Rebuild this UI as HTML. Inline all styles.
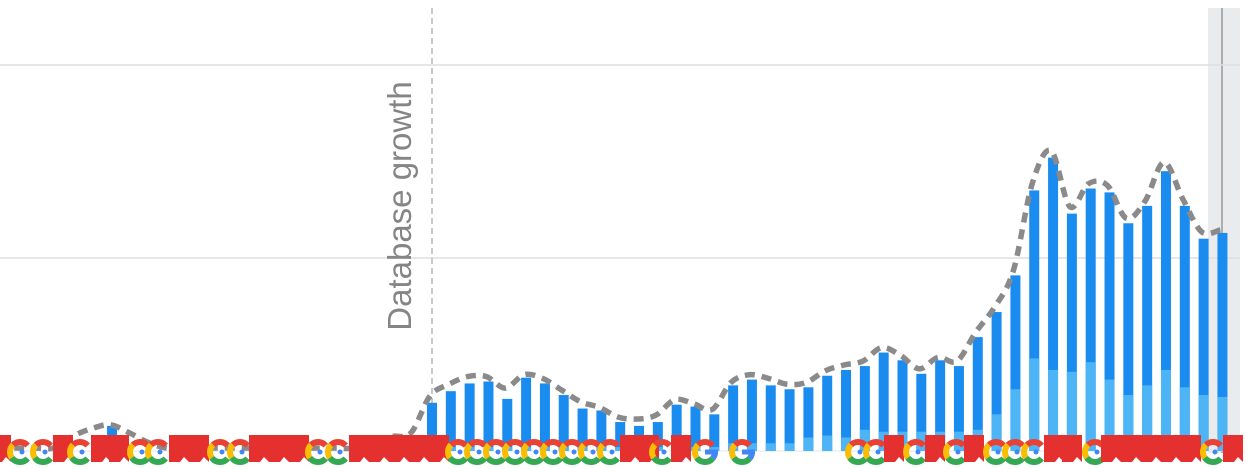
<!DOCTYPE html>
<html><head><meta charset="utf-8"><style>
html,body{margin:0;padding:0;background:#fff;}
svg{display:block;font-family:"Liberation Sans",sans-serif;}
</style></head><body>
<svg id="chart" width="1246" height="469" viewBox="0 0 1246 469" xmlns="http://www.w3.org/2000/svg">
<rect x="1208" y="8" width="32" height="445" fill="#e9ebed"/>
<line x1="1222" y1="8" x2="1222" y2="453" stroke="#9a9a9a" stroke-width="1.5"/>
<g id="grid"></g>
<line x1="432" y1="8" x2="432" y2="440" stroke="#b5b5b5" stroke-width="1.5" stroke-dasharray="6 4"/>
<text x="0" y="0" transform="translate(411,206) rotate(-90)" text-anchor="middle" font-size="33" fill="#858585">Database growth</text>
<g id="bars"></g>
<path id="trend" fill="none" stroke="#8a8a8a" stroke-width="5.5" stroke-dasharray="10 7"/>
<g id="icons"></g>
</svg>
<script>
const categories = Array.from({length:66},(_, i)=>'w'+(i+1));
const totalValues = [0,0,0,0,0,0,13,0,0,0,0,0,0,0,0,0,0,0,0,0,0,5,4,
25,31,35,36,27,38,35,29,22,21,15,13,15,24,23,19,34,37,34,32,
33,39,42,44,51,47,40,47,44,59,72,91,135,152,123,136,134,118,127,145,127,110,113];
const lightValues = [0,0,0,0,0,0,0,0,0,0,0,0,0,0,0,0,0,0,0,0,0,0,0,
2,2,2,2,2,2,2,2,2,2,2,2,2,2,2,2,4,4,4,4,
7,8,7,11,10,10,10,10,10,11,19,32,48,42,41,46,37,29,34,42,33,29,28];
const trendValues = [0,0,0,0,6,10,12,8,3,0,0,0,0,0,0,0,0,0,0,0,4,6,8,
27,33,37,37,31,38,36,30,24,21,16,15,17,25,23,20,34,38,36,33,
34,40,43,45,52,48,41,47,45,60,73,92,137,154,125,137,136,119,128,148,129,112,113];
const gridTicks = [100,200];

const NS='http://www.w3.org/2000/svg';
const x = i => 432 + (i-23)*18.82;
const y = v => 451 - v*1.93;
const mk=(t,a,p)=>{const e=document.createElementNS(NS,t);for(const k in a)e.setAttribute(k,a[k]);p.appendChild(e);return e;};

const grid=document.getElementById('grid');
gridTicks.forEach(t=>{
  const l=mk('line',{x1:0,x2:1240,y1:y(t),y2:y(t),stroke:'#dcdfe3','stroke-width':1.5},grid);
  
  
});
const base=mk('line',{x1:0,x2:1240,y1:451,y2:451,stroke:'#e3e6ea','stroke-width':1},grid);



const bars=document.getElementById('bars');
categories.forEach((c,i)=>{
  const v=totalValues[i]; if(!v) return;
  const r=mk('rect',{x:x(i)-5,y:y(v),width:10,height:451-y(v),fill:'#1a8cf0'},bars);
  
  
  const lv=lightValues[i];
  if(lv){
    const s=mk('rect',{x:x(i)-5,y:y(lv),width:10,height:451-y(lv),fill:'#4db5f6'},bars);
    
    
  }
});

const pts=trendValues.map((v,i)=>[x(i)-2,y(v)-3]);
let d='M'+pts[0][0]+','+pts[0][1];
for(let i=0;i<pts.length-1;i++){
  const p0=pts[Math.max(0,i-1)],p1=pts[i],p2=pts[i+1],p3=pts[Math.min(pts.length-1,i+2)];
  const c1=[p1[0]+(p2[0]-p0[0])/6,p1[1]+(p2[1]-p0[1])/6];
  const c2=[p2[0]-(p3[0]-p1[0])/6,p2[1]-(p3[1]-p1[1])/6];
  d+=` C${c1[0]},${c1[1]} ${c2[0]},${c2[1]} ${p2[0]},${p2[1]}`;
}
document.getElementById('trend').setAttribute('d',d);

const icons=document.getElementById('icons');
const iconList=[[0,'F'],[20,'C'],[43,'C'],[62,'F'],[80,'C'],[100,'F'],[118,'F'],[140,'C'],[158,'C'],[178,'F'],[198,'F'],[220,'C'],[240,'C'],[258,'F'],[278,'F'],[298,'F'],[318,'C'],[338,'C'],[358,'F'],[378,'F'],[398,'F'],[418,'F'],[438,'F'],
[458,'C'],[477,'C'],[496,'C'],[515,'C'],[534,'C'],[553,'C'],[572,'C'],[591,'C'],[610,'C'],[629,'F'],[648,'F'],[662,'C'],[680,'F'],[705,'G'],[742,'G'],
[858,'C'],[876,'C'],[893,'F'],[916,'C'],[934,'F'],[956,'C'],[973,'F'],[996,'C'],[1015,'C'],[1034,'C'],[1053,'F'],[1071,'F'],[1095,'C'],[1110,'F'],[1130,'F'],[1150,'F'],[1170,'F'],[1190,'F'],[1213,'C'],[1232,'F']];
iconList.forEach(([cx,t],k)=>{
  const g=mk('g',{},icons);
  
  
  if(t==='F'){
    mk('path',{d:`M${cx-9},435 h20 v27 l-5,-5 l-4,5 h-11 z`,fill:'#e53030'},g);
  } else {
    const r=10, cy=452;
    const arc=(a1,a2,col)=>{const p=a=>[cx+r*Math.cos(a*Math.PI/180),cy+r*Math.sin(a*Math.PI/180)];
      const [x1,y1]=p(a1),[x2,y2]=p(a2);
      mk('path',{d:`M${x1},${y1} A${r},${r} 0 0 0 ${x2},${y2}`,fill:'none',stroke:col,'stroke-width':6},g);};
    arc(-40,-135,'#e94235'); arc(-135,-215,'#fbbc04'); arc(-215,-320,'#34a853');
    if(t==='G'){arc(-320,-365,'#4285f4'); mk('rect',{x:cx,y:cy-2.5,width:r+3,height:5,fill:'#4285f4'},g);}
    else mk('circle',{cx:cx+2,cy:cy,r:2.5,fill:'#4285f4'},g);
  }
});
</script>
</body></html>
